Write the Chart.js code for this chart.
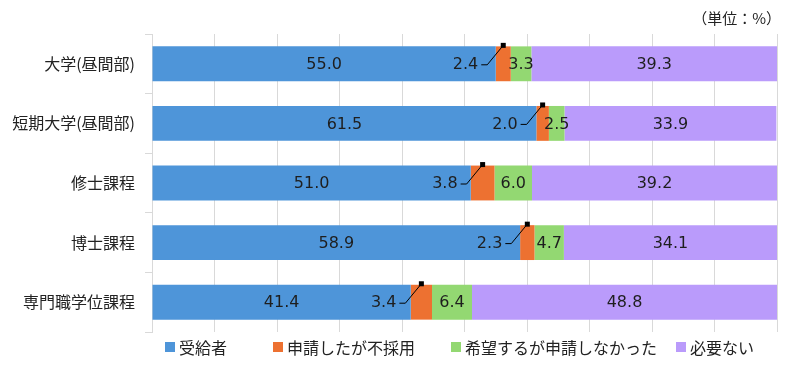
<!DOCTYPE html>
<html><head><meta charset="utf-8">
<script src="https://cdn.jsdelivr.net/npm/chart.js@4/dist/chart.umd.min.js"></script>
<style>
html,body{margin:0;padding:0;background:#fff;}
#wrap{position:relative;width:797px;height:383px;}
#unit{position:absolute;right:16px;top:7px;font:15px 'Noto Sans CJK JP',sans-serif;color:#222;}
#legend{position:absolute;left:165px;top:335px;display:flex;font:16px 'Noto Sans CJK JP',sans-serif;color:#222;white-space:nowrap;}
#legend .it{display:flex;align-items:center;}
#legend .it:nth-child(1){width:108px;}
#legend .it:nth-child(2){width:178px;}
#legend .it:nth-child(3){width:225px;}
#legend .sw{width:10px;height:10px;margin-right:4px;}
</style></head>
<body><div id="wrap"><canvas id="c" width="797" height="383"></canvas><div id="unit"></div><div id="legend"></div></div>
<script>
const unitLabel = '（単位：%）';
const categories = ['大学(昼間部)', '短期大学(昼間部)', '修士課程', '博士課程', '専門職学位課程'];
const seriesNames = ['受給者', '申請したが不採用', '希望するが申請しなかった', '必要ない'];
const received = [55.0, 61.5, 51.0, 58.9, 41.4];
const rejected = [2.4, 2.0, 3.8, 2.3, 3.4];
const notApplied = [3.3, 2.5, 6.0, 4.7, 6.4];
const notNeeded = [39.3, 33.9, 39.2, 34.1, 48.8];
const xTicks = [0, 10, 20, 30, 40, 50, 60, 70, 80, 90, 100];
const colors = ['#4E95D9', '#ED7131', '#93D872', '#BA9BFB'];

document.getElementById('unit').textContent = unitLabel;
const lg = document.getElementById('legend');
seriesNames.forEach((n, i) => {
  const it = document.createElement('div'); it.className = 'it';
  const sw = document.createElement('div'); sw.className = 'sw'; sw.style.background = colors[i];
  const t = document.createElement('span'); t.textContent = n;
  it.appendChild(sw); it.appendChild(t); lg.appendChild(it);
});

const FONT = "'Noto Sans CJK JP', sans-serif";
const NUMFONT = "'DejaVu Sans', 'Noto Sans CJK JP', sans-serif";
const labelPlugin = {
  id: 'vals',
  afterDatasetsDraw(chart) {
    const ctx = chart.ctx;
    ctx.save();
    ctx.font = '16px ' + NUMFONT;
    ctx.fillStyle = '#1e1e1e';
    ctx.textBaseline = 'middle';
    chart.data.datasets.forEach((ds, di) => {
      const meta = chart.getDatasetMeta(di);
      meta.data.forEach((el, i) => {
        const v = ds.data[i];
        const cx = (el.x + el.base) / 2;
        const cy = el.y + 1;
        const txt = v.toFixed(1);
        if (di === 1) {
          const top = el.y - el.height / 2 - 1;
          ctx.strokeStyle = '#000';
          ctx.lineWidth = 1;
          ctx.beginPath();
          ctx.moveTo(cx - 22, cy);
          ctx.lineTo(cx - 16, cy);
          ctx.lineTo(cx, top);
          ctx.stroke();
          ctx.fillStyle = '#000';
          ctx.fillRect(cx - 2.5, top - 2.5, 5, 5);
          ctx.fillStyle = '#1e1e1e';
          ctx.textAlign = 'right';
          ctx.fillText(txt, cx - 25, cy);
        } else {
          ctx.textAlign = 'center';
          ctx.fillText(txt, cx, cy);
        }
      });
    });
    ctx.restore();
  }
};

const series = [received, rejected, notApplied, notNeeded];
new Chart(document.getElementById('c'), {
  type: 'bar',
  data: {
    labels: categories,
    datasets: series.map((d, i) => ({
      label: seriesNames[i], data: d, backgroundColor: colors[i],
      borderWidth: 0, barPercentage: 0.585, categoryPercentage: 1
    }))
  },
  options: {
    indexAxis: 'y',
    responsive: false,
    animation: false,
    layout: { padding: { left: 0, right: 20, top: 34, bottom: 51 } },
    plugins: { legend: { display: false }, tooltip: { enabled: false } },
    scales: {
      x: {
        stacked: true, min: 0, max: 100,
        afterBuildTicks(s) { s.ticks = xTicks.map(v => ({ value: v })); },
        ticks: { display: false },
        grid: { color: '#d9d9d9', drawTicks: false, lineWidth: 1 },
        border: { display: false }
      },
      y: {
        stacked: true,
        afterFit(s) { s.width = 152; },
        ticks: { font: { size: 16, family: FONT }, color: '#222', padding: 10 },
        grid: { drawOnChartArea: false, tickLength: 7, color: '#d9d9d9' },
        border: { display: true, color: '#d9d9d9' }
      }
    }
  },
  plugins: [labelPlugin]
});
</script></body></html>
